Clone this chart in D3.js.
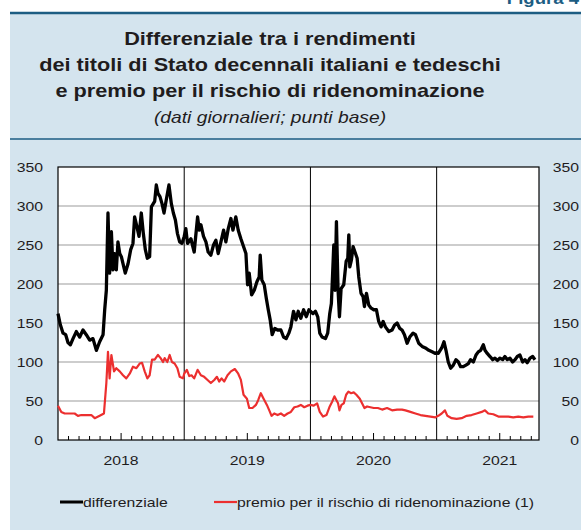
<!DOCTYPE html>
<html>
<head>
<meta charset="utf-8">
<script src="https://cdn.jsdelivr.net/npm/d3@7"></script>
<style>
  html, body { margin: 0; padding: 0; background: #ffffff; }
  svg { display: block; }
  text { font-family: "Liberation Sans", Arial, Helvetica, sans-serif; }
</style>
</head>
<body>
<svg id="chart" width="581" height="530"></svg>
<script>
// Differenziale BTP-Bund a 10 anni (punti base), tempo in anni decimali
const differenziale = [
  [2018.000,162],[2018.018,148],[2018.040,137],[2018.061,135],[2018.079,125],[2018.098,122],
  [2018.119,130],[2018.145,139],[2018.172,132],[2018.198,141],[2018.224,135],[2018.251,128],
  [2018.277,130],[2018.304,115],[2018.330,126],[2018.357,135],[2018.370,167],[2018.383,192],
  [2018.396,291],[2018.409,214],[2018.423,267],[2018.436,218],[2018.449,239],[2018.462,218],
  [2018.475,254],[2018.489,239],[2018.502,235],[2018.515,226],[2018.533,214],[2018.555,226],
  [2018.576,244],[2018.594,252],[2018.607,286],[2018.626,273],[2018.642,261],[2018.660,291],
  [2018.676,265],[2018.692,244],[2018.708,233],[2018.726,235],[2018.740,299],[2018.755,303],
  [2018.766,306],[2018.779,327],[2018.792,316],[2018.808,312],[2018.824,303],[2018.840,291],
  [2018.858,308],[2018.879,327],[2018.898,303],[2018.914,291],[2018.930,282],[2018.946,265],
  [2018.964,254],[2018.982,252],
  [2019.000,261],[2019.013,271],[2019.026,252],[2019.053,258],[2019.079,241],[2019.106,286],
  [2019.119,269],[2019.132,276],[2019.153,261],[2019.172,254],[2019.190,241],[2019.211,237],
  [2019.232,250],[2019.251,256],[2019.269,239],[2019.291,254],[2019.312,269],[2019.330,254],
  [2019.349,271],[2019.370,284],[2019.386,269],[2019.409,286],[2019.428,269],[2019.449,258],
  [2019.470,248],[2019.489,239],[2019.502,199],[2019.515,214],[2019.534,186],[2019.555,192],
  [2019.576,203],[2019.594,209],[2019.602,237],[2019.615,205],[2019.634,199],[2019.650,182],
  [2019.666,167],[2019.681,154],[2019.697,135],[2019.718,143],[2019.740,141],[2019.766,141],
  [2019.787,132],[2019.808,130],[2019.829,137],[2019.845,145],[2019.866,165],[2019.885,154],
  [2019.903,165],[2019.924,156],[2019.946,167],[2019.967,158],[2019.988,167],
  [2020.000,165],[2020.021,162],[2020.040,165],[2020.058,158],[2020.074,137],[2020.092,132],
  [2020.119,130],[2020.137,137],[2020.153,162],[2020.166,175],[2020.177,218],[2020.185,250],
  [2020.195,192],[2020.206,280],[2020.219,192],[2020.230,158],[2020.243,194],[2020.264,199],
  [2020.283,229],[2020.296,233],[2020.304,263],[2020.312,222],[2020.325,231],[2020.338,248],
  [2020.357,239],[2020.370,233],[2020.383,209],[2020.401,188],[2020.417,184],[2020.428,171],
  [2020.444,188],[2020.462,173],[2020.481,169],[2020.502,167],[2020.523,167],[2020.541,152],
  [2020.560,145],[2020.576,152],[2020.594,145],[2020.621,139],[2020.647,141],[2020.666,147],
  [2020.687,150],[2020.708,143],[2020.726,141],[2020.745,135],[2020.766,124],[2020.787,132],
  [2020.813,137],[2020.832,135],[2020.858,124],[2020.885,120],[2020.911,118],[2020.938,115],
  [2020.964,113],[2020.990,111],
  [2021.000,112],[2021.013,111],[2021.040,118],[2021.058,126],[2021.074,115],[2021.092,100],
  [2021.111,92],[2021.132,96],[2021.153,103],[2021.172,100],[2021.190,94],[2021.211,94],
  [2021.232,96],[2021.251,98],[2021.269,103],[2021.291,100],[2021.312,109],[2021.330,113],
  [2021.349,115],[2021.370,122],[2021.383,115],[2021.401,111],[2021.423,107],[2021.444,103],
  [2021.462,105],[2021.481,102],[2021.502,105],[2021.523,103],[2021.541,107],[2021.560,103],
  [2021.581,105],[2021.602,100],[2021.621,103],[2021.639,107],[2021.660,109],[2021.681,100],
  [2021.700,103],[2021.718,99],[2021.740,105],[2021.761,107],[2021.779,103]
];

// Premio per il rischio di ridenominazione (punti base)
const premio = [
  [2018.000,44],[2018.026,36],[2018.053,34],[2018.092,34],[2018.132,34],[2018.158,31],
  [2018.185,32],[2018.224,32],[2018.264,32],[2018.291,28],[2018.330,31],[2018.364,34],
  [2018.383,73],[2018.396,113],[2018.409,79],[2018.423,109],[2018.444,88],[2018.462,92],
  [2018.489,88],[2018.515,83],[2018.541,79],[2018.568,85],[2018.594,94],[2018.621,92],
  [2018.647,98],[2018.666,99],[2018.687,88],[2018.708,79],[2018.726,83],[2018.745,103],
  [2018.766,103],[2018.792,109],[2018.813,105],[2018.832,100],[2018.845,105],[2018.866,100],
  [2018.885,109],[2018.903,100],[2018.924,98],[2018.946,92],[2018.964,81],[2018.990,79],
  [2019.000,85],[2019.021,90],[2019.040,82],[2019.058,83],[2019.079,79],[2019.106,90],
  [2019.132,83],[2019.158,81],[2019.185,77],[2019.211,73],[2019.238,77],[2019.259,81],
  [2019.277,75],[2019.296,79],[2019.317,75],[2019.343,83],[2019.370,88],[2019.401,91],
  [2019.428,85],[2019.449,77],[2019.470,58],[2019.497,53],[2019.515,41],[2019.541,41],
  [2019.568,45],[2019.586,51],[2019.607,60],[2019.629,53],[2019.655,45],[2019.674,38],
  [2019.692,31],[2019.713,34],[2019.740,32],[2019.766,34],[2019.792,31],[2019.819,34],
  [2019.845,36],[2019.872,42],[2019.898,43],[2019.924,45],[2019.951,42],[2019.977,44],
  [2020.000,45],[2020.026,44],[2020.053,47],[2020.074,36],[2020.100,30],[2020.127,32],
  [2020.153,43],[2020.172,49],[2020.190,56],[2020.206,51],[2020.219,47],[2020.230,38],
  [2020.246,45],[2020.264,47],[2020.283,58],[2020.301,62],[2020.322,60],[2020.343,61],
  [2020.364,58],[2020.391,53],[2020.409,47],[2020.428,41],[2020.449,43],[2020.475,42],
  [2020.502,41],[2020.534,41],[2020.568,39],[2020.607,41],[2020.647,38],[2020.687,39],
  [2020.726,39],[2020.753,38],[2020.792,36],[2020.832,34],[2020.872,32],[2020.911,31],
  [2020.951,30],[2020.990,29],
  [2021.000,30],[2021.013,31],[2021.040,34],[2021.066,38],[2021.085,31],[2021.119,28],
  [2021.158,27],[2021.198,28],[2021.238,31],[2021.277,32],[2021.317,34],[2021.357,36],
  [2021.383,38],[2021.409,34],[2021.449,33],[2021.489,30],[2021.528,30],[2021.568,30],
  [2021.607,29],[2021.647,30],[2021.687,29],[2021.726,30],[2021.766,30]
];

const yTicks = [0, 50, 100, 150, 200, 250, 300, 350];
const anni = [2018, 2019, 2020, 2021];
const titolo = [
  "Differenziale tra i rendimenti",
  "dei titoli di Stato decennali italiani e tedeschi",
  "e premio per il rischio di ridenominazione"
];
const sottotitolo = "(dati giornalieri; punti base)";
const legenda = ["differenziale", "premio per il rischio di ridenominazione (1)"];

const BLUE = "#1d5d83", PANEL = "#d4e4ee", RED = "#ec2f2f", GRID = "#9b9b9b", INK = "#1f1c1d";
const SX = 1.16; // horizontal stretch of the lettering

const svg = d3.select("#chart");

function label(x, y, str, size, opts = {}) {
  return svg.append("text")
    .attr("transform", `translate(${x},${y}) scale(${SX},1)`)
    .attr("text-anchor", opts.anchor || "start")
    .attr("font-size", size)
    .attr("font-weight", opts.weight || "normal")
    .attr("font-style", opts.style || "normal")
    .attr("fill", opts.fill || INK)
    .text(str);
}

// Panel
svg.append("rect").attr("x", 10).attr("y", 13).attr("width", 575).attr("height", 520).attr("fill", PANEL);
svg.append("line").attr("x1", 10).attr("x2", 581).attr("y1", 13).attr("y2", 13)
  .attr("stroke", BLUE).attr("stroke-width", 2.5);
svg.append("line").attr("x1", 10).attr("x2", 581).attr("y1", 139).attr("y2", 139)
  .attr("stroke", BLUE).attr("stroke-width", 1.6);
label(579, 4, "Figura 4", 16, { anchor: "end", weight: "bold", fill: BLUE });

// Title block
titolo.forEach((t, i) => label(270, 45 + i * 26, t, 18.7, { anchor: "middle", weight: "bold" }));
label(270, 123, sottotitolo, 16.6, { anchor: "middle", style: "italic" });

// Scales
const x = d3.scaleLinear().domain([2018, 2021.811]).range([58, 539]);
const y = d3.scaleLinear().domain([0, 350]).range([440, 167]);

// Plot area
svg.append("rect").attr("x", x.range()[0]).attr("y", y(350))
  .attr("width", x.range()[1] - x.range()[0]).attr("height", y(0) - y(350)).attr("fill", "#fff");

svg.append("g").selectAll("line").data(yTicks.filter(v => v > 0 && v < 350)).join("line")
  .attr("x1", x.range()[0]).attr("x2", x.range()[1])
  .attr("y1", d => y(d)).attr("y2", d => y(d))
  .attr("stroke", GRID).attr("stroke-width", 1);

// Year separators
svg.append("g").selectAll("line").data(anni.slice(1)).join("line")
  .attr("x1", d => x(d)).attr("x2", d => x(d))
  .attr("y1", y(350)).attr("y2", y(0))
  .attr("stroke", "#000").attr("stroke-width", 1);

// Monthly ticks (longer at mid-year)
const mesi = d3.range(2018 * 12 + 1, Math.floor(x.domain()[1] * 12) + 1)
  .map(m => m / 12).filter(t => Math.abs(t - Math.round(t)) > 1e-6);
svg.append("g").selectAll("line").data(mesi).join("line")
  .attr("x1", d => x(d)).attr("x2", d => x(d))
  .attr("y1", y(0)).attr("y2", d => Math.abs((d % 1) - 0.5) < 1e-6 ? y(0) - 7 : y(0) - 4)
  .attr("stroke", "#000").attr("stroke-width", 1);

// Frame
svg.append("rect").attr("x", x.range()[0]).attr("y", y(350))
  .attr("width", x.range()[1] - x.range()[0]).attr("height", y(0) - y(350))
  .attr("fill", "none").attr("stroke", "#000").attr("stroke-width", 1.2);

// Axis labels
yTicks.forEach(v => {
  label(43, y(v) + 5, String(v), 13.6, { anchor: "end" });
  label(579, y(v) + 5, String(v), 13.6, { anchor: "end" });
});
anni.forEach(a => label(x(a + 0.5), 465, String(a), 13.6, { anchor: "middle" }));

// Series
const line = d3.line().x(d => x(d[0])).y(d => y(d[1])).curve(d3.curveLinear);
svg.append("path").datum(premio).attr("d", line)
  .attr("fill", "none").attr("stroke", RED).attr("stroke-width", 2.2).attr("stroke-linejoin", "round");
svg.append("path").datum(differenziale).attr("d", line)
  .attr("fill", "none").attr("stroke", "#000").attr("stroke-width", 3.3).attr("stroke-linejoin", "round");

// Legend
svg.append("line").attr("x1", 60).attr("x2", 83).attr("y1", 502).attr("y2", 502)
  .attr("stroke", "#000").attr("stroke-width", 3);
label(83, 507, legenda[0], 13.6);
svg.append("line").attr("x1", 214).attr("x2", 237).attr("y1", 502).attr("y2", 502)
  .attr("stroke", RED).attr("stroke-width", 2.2);
label(237, 507, legenda[1], 13.6);
</script>
</body>
</html>
